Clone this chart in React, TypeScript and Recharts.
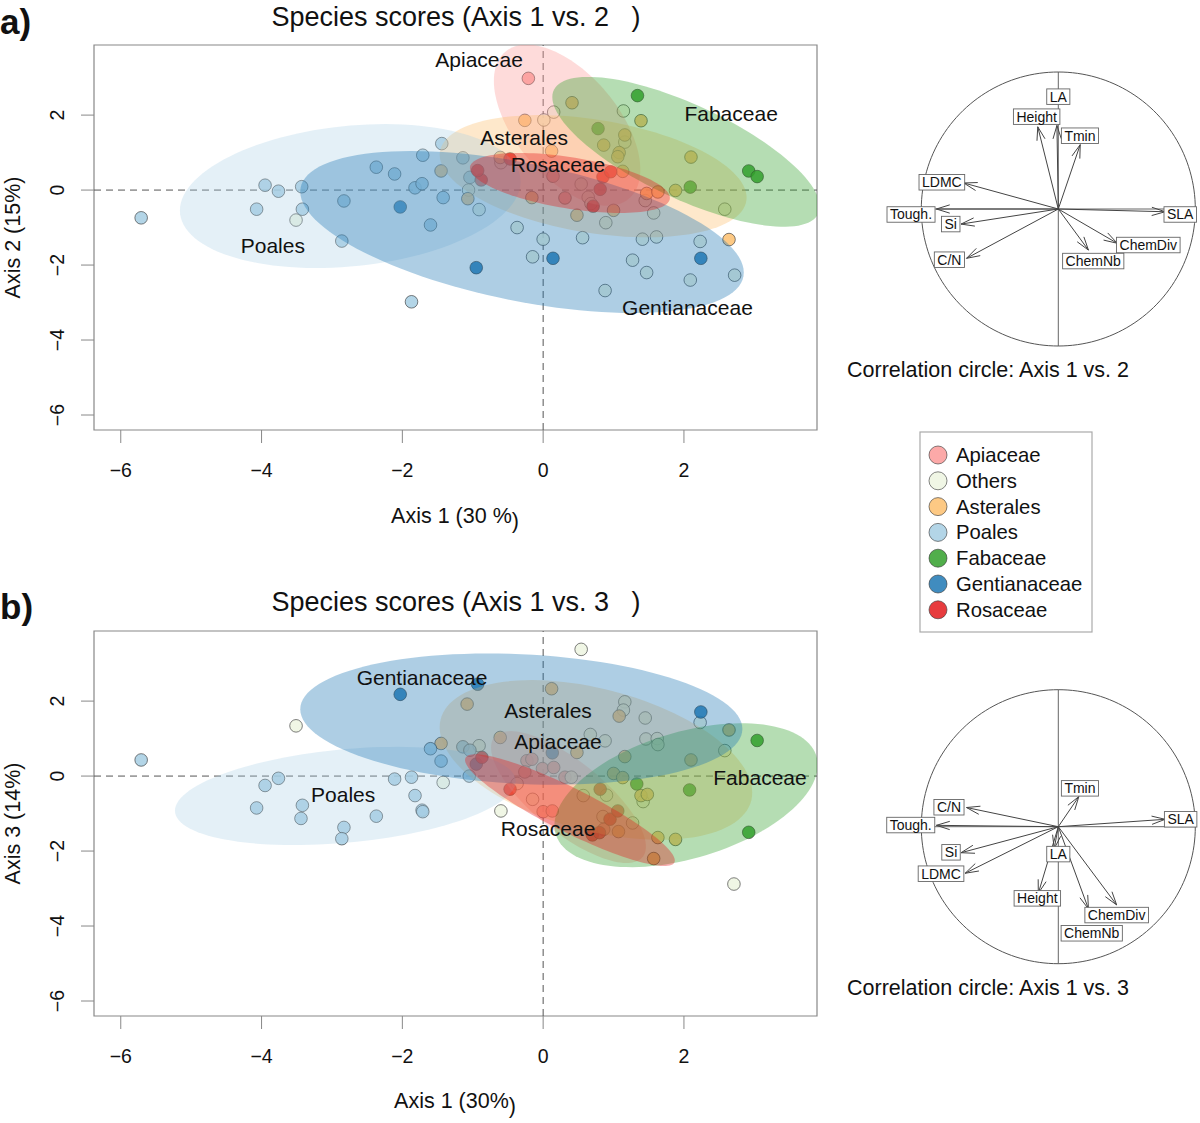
import React from 'react'
import { ScatterChart, Scatter, XAxis, YAxis, ReferenceLine, ReferenceArea } from 'recharts'

const FONT = '"Liberation Sans", Arial, Helvetica, sans-serif'

const groups = ['Apiaceae', 'Others', 'Asterales', 'Poales', 'Fabaceae', 'Gentianaceae', 'Rosaceae']
const groupColors = ['#FB9A99', '#EDF5E1', '#FDBF6F', '#A6CEE3', '#33A02C', '#1F78B4', '#E31A1C']

// species scores, axis 1 vs 2
const apiaceaeA = [[-0.21, 2.98], [0.14, 0.37], [0.31, -0.21]]
const othersA = [[-3.51, -0.8], [-1.06, 0.0], [-0.91, -0.52], [-0.6, 0.73], [0.15, 2.08], [1.14, 2.11], [0.01, 1.87], [1.16, 1.28], [0.54, 0.16], [0.64, -0.19], [0.68, -0.36], [0.89, -0.87], [1.45, -0.28], [2.58, -0.51], [-0.37, -1.0], [0.0, -1.31], [0.56, -1.27], [1.41, -1.31], [1.61, -1.25], [2.23, -1.37], [-0.15, -1.78], [1.27, -1.87], [1.47, -2.2], [2.09, -2.4], [2.72, -2.27], [0.88, -2.68], [1.57, -0.61]]
const asteralesA = [[-1.45, 0.51], [-1.07, -0.23], [-0.26, 1.86], [0.41, 2.33], [1.39, 1.85], [1.16, 1.47], [0.86, 1.2], [1.08, 1.0], [1.06, 0.89], [2.1, 0.88], [-0.61, 0.87], [0.12, 1.04], [1.13, 0.5], [-0.16, -0.2], [1.0, -0.54], [0.48, -0.67], [1.47, -0.09], [1.63, -0.05], [1.88, -0.01], [2.64, -1.32]]
const poalesA = [[-5.71, -0.74], [-3.95, 0.13], [-3.76, -0.03], [-3.43, 0.09], [-4.07, -0.51], [-3.42, -0.51], [-2.83, -0.29], [-2.86, -1.36], [-2.37, 0.61], [-2.11, 0.43], [-1.71, 0.93], [-1.82, 0.06], [-1.72, 0.17], [-1.44, 1.24], [-1.6, -0.93], [-1.87, -2.98], [-1.04, 0.34], [-1.14, 0.86], [-1.42, -0.2]]
const fabaceaeA = [[1.34, 2.52], [0.78, 1.64], [2.09, 0.08], [2.92, 0.51], [3.04, 0.36]]
const gentianaceaeA = [[-2.03, -0.45], [0.14, -1.82], [-0.95, -2.07], [2.24, -1.82]]
const rosaceaeA = [[-0.47, 0.83], [-0.88, 0.27], [0.85, 0.35], [0.96, 0.49], [0.81, 0.02], [0.71, -0.43], [-0.93, 0.52]]

// species scores, axis 1 vs 3
const apiaceaeB = [[-0.23, 0.41], [-0.16, 0.45], [-0.26, 0.11], [-0.01, 0.2], [0.15, 0.23], [0.31, -0.03], [0.0, -0.95], [0.13, -0.93], [0.86, -1.42]]
const othersB = [[-3.51, 1.34], [-1.42, -0.17], [0.54, 3.38], [1.16, 1.98], [1.14, 1.76], [1.45, 1.55], [2.23, 1.43], [2.58, 0.68], [1.46, 0.99], [1.62, 1.0], [1.63, 0.84], [0.67, 1.11], [0.88, 0.94], [-0.91, 0.81], [-0.6, -0.93], [2.71, -2.88], [-0.37, -0.2], [-0.15, -0.62], [0.57, -0.52], [0.9, -0.51], [1.27, -1.25], [0.85, -1.08], [0.4, -0.03], [1.42, -0.68]]
const asteralesB = [[-1.45, 0.87], [-1.08, 1.92], [0.12, 2.33], [1.08, 1.6], [2.64, 1.23], [2.1, 0.43], [1.16, 0.52], [1.0, 0.07], [1.13, -0.04], [1.39, -0.52], [1.48, -0.49], [1.63, -1.64], [1.88, -1.69], [1.57, -2.2], [-0.61, 1.03], [0.48, 0.63], [1.07, -1.48]]
const poalesB = [[-5.71, 0.43], [-3.95, -0.25], [-3.76, -0.06], [-4.07, -0.85], [-3.42, -0.78], [-3.44, -1.13], [-2.83, -1.37], [-2.86, -1.67], [-2.37, -1.07], [-2.11, -0.08], [-1.87, -0.03], [-1.82, -0.52], [-1.72, -0.91], [-1.71, -0.95], [-1.6, 0.73], [-1.45, 0.4], [-1.14, 0.78], [-1.05, 0.0], [-1.04, 0.69]]
const fabaceaeB = [[3.04, 0.95], [1.33, -0.21], [2.08, -0.37], [2.92, -1.5]]
const gentianaceaeB = [[-2.03, 2.18], [-0.93, 2.45], [2.24, 1.71], [0.13, 0.62], [-0.95, 0.32]]
const rosaceaeB = [[-0.87, 0.5], [-0.47, -0.35], [0.81, -0.35], [0.95, -1.15], [0.7, -1.57], [0.8, -1.51], [1.06, -0.93]]

const scoresA = [apiaceaeA, othersA, asteralesA, poalesA, fabaceaeA, gentianaceaeA, rosaceaeA]
const scoresB = [apiaceaeB, othersB, asteralesB, poalesB, fabaceaeB, gentianaceaeB, rosaceaeB]

// class ellipses: group, centre x, centre y, half-range x, half-range y, correlation
const ellipsesA: [string, number, number, number, number, number][] = [
  ['Apiaceae', 0.34, 1.73, 1.04, 2.15, -0.55],
  ['Asterales', 0.71, 0.37, 2.18, 1.63, -0.35],
  ['Poales', -2.74, -0.16, 2.42, 1.92, 0.2],
  ['Fabaceae', 2.03, 1.02, 1.9, 2.0, -0.73],
  ['Gentianaceae', -0.3, -1.12, 3.15, 2.16, -0.5],
  ['Rosaceae', 0.38, 0.19, 1.42, 0.8, -0.5],
]
const ellipsesB: [string, number, number, number, number, number][] = [
  ['Apiaceae', 0.36, -0.56, 1.1, 1.76, -0.75],
  ['Asterales', 0.75, 0.43, 2.22, 2.13, -0.41],
  ['Poales', -2.81, -0.53, 2.42, 1.31, 0.3],
  ['Fabaceae', 2.03, -0.51, 1.87, 1.92, 0.42],
  ['Gentianaceae', -0.31, 1.52, 3.14, 1.75, -0.15],
  ['Rosaceae', 0.38, -0.91, 1.49, 1.49, -0.9],
]

const groupLabelsA: [string, number, number][] = [
  ['Apiaceae', -0.91, 3.49], ['Fabaceae', 2.67, 2.05], ['Asterales', -0.27, 1.39],
  ['Rosaceae', 0.21, 0.69], ['Poales', -3.84, -1.47], ['Gentianaceae', 2.05, -3.12],
]
const groupLabelsB: [string, number, number][] = [
  ['Gentianaceae', -1.72, 2.64], ['Asterales', 0.07, 1.76], ['Apiaceae', 0.21, 0.93],
  ['Fabaceae', 3.08, -0.05], ['Poales', -2.84, -0.48], ['Rosaceae', 0.07, -1.39],
]

const xTicks = [-6, -4, -2, 0, 2]
const yTicks = [-6, -4, -2, 0, 2]

// correlation circles
const traits = ['SLA', 'Tough.', 'Si', 'C/N', 'LDMC', 'ChemDiv', 'ChemNb', 'Tmin', 'Height', 'LA']
const tipsA = [[0.78, -0.02], [-0.89, 0.0], [-0.71, -0.11], [-0.67, -0.36], [-0.69, 0.19], [0.43, -0.25], [0.22, -0.3], [0.16, 0.47], [-0.15, 0.6], [-0.01, 0.61]]
const labelPosA = [[0.89, -0.04], [-1.075, -0.04], [-0.785, -0.11], [-0.795, -0.37], [-0.85, 0.195], [0.657, -0.263], [0.255, -0.38], [0.158, 0.535], [-0.158, 0.674], [0.0, 0.82]]
const tipsB = [[0.78, 0.054], [-0.89, 0.01], [-0.71, -0.19], [-0.67, 0.14], [-0.68, -0.34], [0.426, -0.571], [0.22, -0.6], [0.15, 0.22], [-0.146, -0.486], [-0.03, -0.16]]
const labelPosB = [[0.893, 0.054], [-1.077, 0.012], [-0.783, -0.187], [-0.798, 0.142], [-0.856, -0.343], [0.426, -0.645], [0.244, -0.778], [0.158, 0.28], [-0.153, -0.523], [0.0, -0.2]]

const fmt = (v: number) => (v < 0 ? '\u2212' + Math.abs(v) : String(v))

function ellipsePoints(cx: number, cy: number, rx: number, ry: number, rho: number) {
  const phi = Math.asin(rho)
  const pts = []
  for (let i = 0; i <= 120; i++) {
    const t = (i / 120) * Math.PI * 2
    pts.push({ x: cx + rx * Math.cos(t), y: cy + ry * Math.sin(t + phi) })
  }
  return pts
}

const pathOf = (pts: { x: number; y: number }[], close = false) =>
  pts.map((q, i) => `${i ? 'L' : 'M'}${q.x.toFixed(2)},${q.y.toFixed(2)}`).join('') + (close ? 'Z' : '')

const noShape = () => <g />

let ctx: CanvasRenderingContext2D | null = null
function textWidth(s: string, size: number) {
  if (!ctx) ctx = document.createElement('canvas').getContext('2d')
  if (!ctx) return s.length * size * 0.55
  ctx.font = `${size}px "Liberation Sans", Arial`
  return ctx.measureText(s).width
}

const XTick = (p: any) => (
  <text x={p.x} y={p.y} dy={14} textAnchor="middle" fontSize={19.5} fontFamily={FONT} fill="#111">
    {fmt(p.payload.value)}
  </text>
)
const YTick = (p: any) => (
  <text x={p.x} y={p.y} transform={`rotate(-90 ${p.x} ${p.y})`} textAnchor="middle" fontSize={19.5} fontFamily={FONT} fill="#111">
    {fmt(p.payload.value)}
  </text>
)

function ScorePlot({ scores, ellipses, labels }: { scores: number[][][]; ellipses: [string, number, number, number, number, number][]; labels: [string, number, number][] }) {
  return (
    <ScatterChart width={840} height={540} margin={{ top: 45, right: 23, bottom: 50, left: 34 }}>
      <XAxis type="number" dataKey="x" domain={[-6.38, 3.89]} ticks={xTicks} allowDataOverflow
        axisLine={false} tickSize={13} tickMargin={20} tickLine={{ stroke: '#888' }} tick={<XTick />} height={60} />
      <YAxis type="number" dataKey="y" domain={[-6.4, 3.87]} ticks={yTicks} allowDataOverflow
        axisLine={false} tickSize={13} tickMargin={17} tickLine={{ stroke: '#888' }} tick={<YTick />} width={60} />
      <ReferenceLine x={0} stroke="#555" strokeDasharray="7 5" />
      <ReferenceLine y={0} stroke="#555" strokeDasharray="7 5" />
      {scores.map((pts, gi) => (
        <Scatter key={'p' + gi} data={pts.map(([x, y]) => ({ x, y }))} isAnimationActive={false}
          shape={(p: any) => (
            <circle cx={p.cx} cy={p.cy} r={6.3} fill={groupColors[gi]} fillOpacity={0.85}
              stroke="#333" strokeOpacity={0.7} strokeWidth={0.9} />
          )} />
      ))}
      {ellipses.map(([g, cx, cy, rx, ry, rho]) => {
        const color = groupColors[groups.indexOf(g)]
        return (
          <Scatter key={'e' + g} data={ellipsePoints(cx, cy, rx, ry, rho)} isAnimationActive={false}
            shape={noShape}
            line={(p: any) => <path d={pathOf(p.points, true)} fill={color} fillOpacity={g === 'Poales' ? 0.3 : 0.36} stroke="none" />} />
        )
      })}
      <Scatter data={labels.map(([name, x, y]) => ({ name, x, y }))} isAnimationActive={false}
        shape={(p: any) => (
          <text x={p.cx} y={p.cy} dy={7.5} textAnchor="middle" fontSize={21} fontFamily={FONT} fill="#111">{p.payload.name}</text>
        )} />
      <ReferenceArea x1={-6.38} x2={3.89} y1={-6.4} y2={3.87} fill="none" stroke="#888" strokeWidth={1.2} ifOverflow="visible" />
    </ScatterChart>
  )
}

const unitCircle = Array.from({ length: 181 }, (_, i) => ({ x: Math.cos((i / 180) * 2 * Math.PI), y: Math.sin((i / 180) * 2 * Math.PI) }))

function arrowPath(p: any) {
  const [a, b] = p.points
  const ang = Math.atan2(b.y - a.y, b.x - a.x)
  const L = 14
  const w = 0.3
  const b1 = { x: b.x - L * Math.cos(ang - w), y: b.y - L * Math.sin(ang - w) }
  const b2 = { x: b.x - L * Math.cos(ang + w), y: b.y - L * Math.sin(ang + w) }
  return (
    <path d={`M${a.x},${a.y}L${b.x},${b.y}M${b1.x},${b1.y}L${b.x},${b.y}L${b2.x},${b2.y}`} stroke="#444" strokeWidth={1} fill="none" />
  )
}

function CorrCircle({ tips, labelPos, top }: { tips: number[][]; labelPos: number[][]; top: number }) {
  return (
    <ScatterChart width={345} height={330} margin={{ top, right: 2.85, bottom: 330 - top - 315.1, left: 13.35 }}>
      <XAxis type="number" dataKey="x" domain={[-1.35, 1.05]} allowDataOverflow hide />
      <YAxis type="number" dataKey="y" domain={[-1.15, 1.15]} allowDataOverflow hide />
      <ReferenceLine segment={[{ x: 0, y: -1 }, { x: 0, y: 1 }]} stroke="#666" />
      <ReferenceLine segment={[{ x: -1, y: 0 }, { x: 1, y: 0 }]} stroke="#666" />
      <Scatter data={unitCircle} isAnimationActive={false} shape={noShape}
        line={(p: any) => <path d={pathOf(p.points, true)} fill="none" stroke="#555" strokeWidth={1} />} />
      {tips.map(([x, y], i) => (
        <Scatter key={'a' + i} data={[{ x: 0, y: 0 }, { x, y }]} isAnimationActive={false} shape={noShape} line={arrowPath} />
      ))}
      <Scatter data={labelPos.map(([x, y], i) => ({ x, y, name: traits[i] }))} isAnimationActive={false}
        shape={(p: any) => {
          const w = textWidth(p.payload.name, 14) + 6
          const h = 15.5
          return (
            <g>
              <rect x={p.cx - w / 2} y={p.cy - h / 2} width={w} height={h} fill="#fff" stroke="#666" strokeWidth={0.9} />
              <text x={p.cx} y={p.cy + 5} textAnchor="middle" fontSize={14} fontFamily={FONT} fill="#111">{p.payload.name}</text>
            </g>
          )
        }} />
    </ScatterChart>
  )
}

function Legend() {
  return (
    <g>
      <rect x={920} y={432} width={172} height={200} fill="#fff" stroke="#aaa" strokeWidth={1.2} />
      {groups.map((g, i) => (
        <g key={g}>
          <circle cx={938} cy={455 + i * 25.8} r={9} fill={groupColors[i]} fillOpacity={0.85} stroke="#333" strokeOpacity={0.6} />
          <text x={956} y={462 + i * 25.8} fontSize={20.3} fontFamily={FONT} fill="#111">{g}</text>
        </g>
      ))}
    </g>
  )
}

export default function App() {
  const abs = (left: number, top: number): React.CSSProperties => ({ position: 'absolute', left, top })
  return (
    <div style={{ position: 'absolute', left: 0, top: 0, width: 1200, height: 1123, background: '#fff', overflow: 'hidden' }}>
      <div style={abs(0, 0)}>
        <ScorePlot scores={scoresA} ellipses={ellipsesA} labels={groupLabelsA} />
      </div>
      <div style={abs(0, 586)}>
        <ScorePlot scores={scoresB} ellipses={ellipsesB} labels={groupLabelsB} />
      </div>
      <div style={abs(860, 40)}>
        <CorrCircle tips={tipsA} labelPos={labelPosA} top={11.45} />
      </div>
      <div style={abs(860, 658)}>
        <CorrCircle tips={tipsB} labelPos={labelPosB} top={11.15} />
      </div>
      <svg width={1200} height={1123} style={{ position: 'absolute', left: 0, top: 0, pointerEvents: 'none' }}>
        <g fontFamily={FONT} fill="#111">
          <text x={0} y={34} fontSize={35} fontWeight="bold">a)</text>
          <text x={0} y={619} fontSize={35} fontWeight="bold">b)</text>
          <text x={456} y={26} fontSize={27} textAnchor="middle" style={{ whiteSpace: 'pre' }}>{'Species scores (Axis 1 vs. 2   )'}</text>
          <text x={456} y={611} fontSize={27} textAnchor="middle" style={{ whiteSpace: 'pre' }}>{'Species scores (Axis 1 vs. 3   )'}</text>
          <text x={455} y={523} fontSize={21.5} textAnchor="middle">Axis 1 (30 %<tspan dy={5}>)</tspan></text>
          <text x={455} y={1108} fontSize={21.5} textAnchor="middle">Axis 1 (30%<tspan dy={5}>)</tspan></text>
          <text x={20} y={237.5} fontSize={21.5} textAnchor="middle" transform="rotate(-90 20 237.5)">Axis 2 (15%)</text>
          <text x={20} y={823.5} fontSize={21.5} textAnchor="middle" transform="rotate(-90 20 823.5)">Axis 3 (14%)</text>
          <text x={847} y={377} fontSize={21.5}>Correlation circle: Axis 1 vs. 2</text>
          <text x={847} y={995} fontSize={21.5}>Correlation circle: Axis 1 vs. 3</text>
        </g>
        <Legend />
      </svg>
    </div>
  )
}
